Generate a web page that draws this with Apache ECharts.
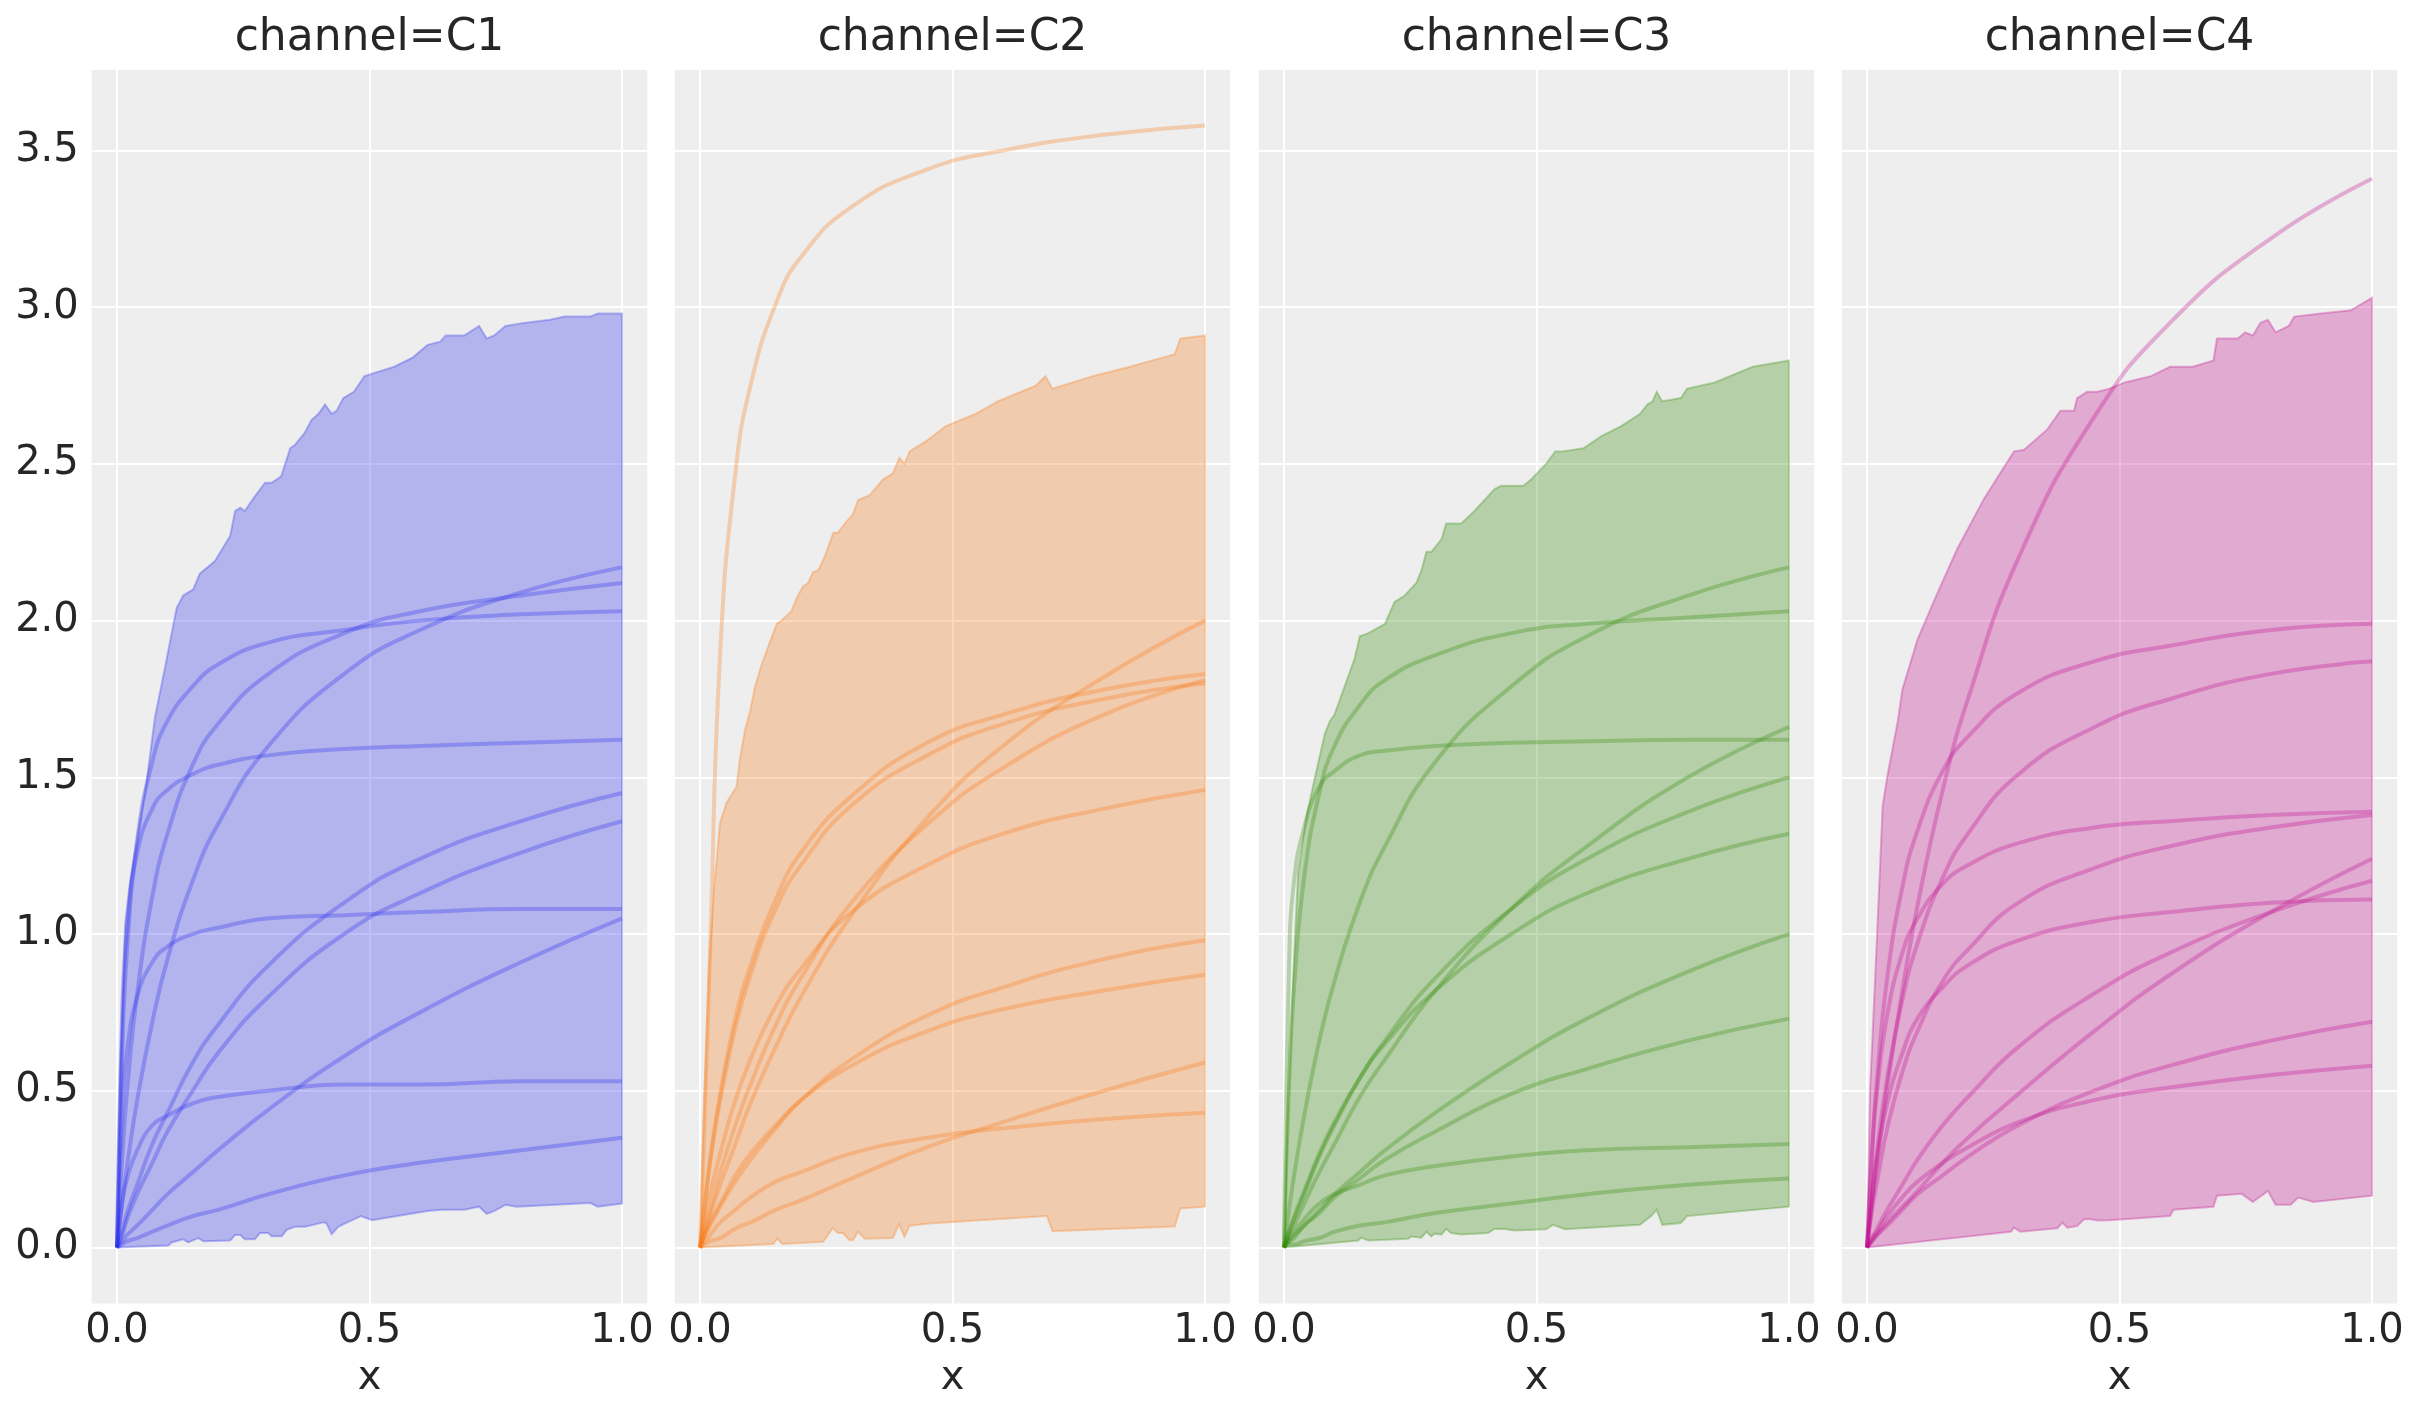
<!DOCTYPE html>
<html>
<head>
<meta charset="utf-8">
<title>channel curves</title>
<script src="https://cdn.jsdelivr.net/npm/echarts@6.0.0/dist/echarts.min.js"></script>
<style>
  html, body { margin: 0; padding: 0; background: #ffffff; }
  #chart { width: 2423px; height: 1423px; }
</style>
</head>
<body>
<div id="chart"></div>
<script>
var xs = [0, 0.01, 0.02, 0.04, 0.07, 0.1, 0.15, 0.2, 0.3, 0.45, 0.6, 0.8, 1];

var channels = ['C1', 'C2', 'C3', 'C4'];
var colors = ['#2a2eec', '#fa7c17', '#328c06', '#c10c90'];

var xTicks = [0, 0.5, 1];
var yTicks = [0, 0.5, 1, 1.5, 2, 2.5, 3, 3.5];

var curvesC1 = [
    [0, .14, .26, .47, .72, .92, 1.17, 1.35, 1.60, 1.83, 1.97, 2.09, 2.17],
    [0, .28, .50, .81, 1.12, 1.32, 1.54, 1.67, 1.83, 1.96, 2.03, 2.08, 2.12],
    [0, .61, .95, 1.30, 1.55, 1.68, 1.79, 1.86, 1.93, 1.97, 2.00, 2.02, 2.03],
    [0, .74, 1.02, 1.26, 1.40, 1.46, 1.51, 1.54, 1.57, 1.59, 1.60, 1.61, 1.62],
    [0, .05, .11, .20, .33, .43, .59, .71, .90, 1.10, 1.24, 1.36, 1.45],
    [0, .04, .09, .17, .27, .37, .50, .62, .80, 1.00, 1.13, 1.26, 1.36],
    [0, .44, .63, .80, .91, .96, 1.00, 1.02, 1.05, 1.06, 1.07, 1.08, 1.08],
    [0, .02, .04, .07, .12, .17, .24, .31, .44, .61, .75, .91, 1.05],
    [0, .14, .22, .31, .39, .42, .46, .48, .50, .52, .52, .53, .53],
    [0, .01, .02, .03, .05, .07, .10, .12, .17, .23, .27, .31, .35]
];

var curvesC2 = [
    [0, .46, .95, 1.90, 2.47, 2.75, 3.01, 3.16, 3.32, 3.44, 3.50, 3.55, 3.58],
    [0, .05, .10, .20, .33, .46, .64, .80, 1.06, 1.37, 1.60, 1.82, 2.00],
    [0, .15, .28, .49, .73, .90, 1.11, 1.26, 1.44, 1.61, 1.70, 1.78, 1.83],
    [0, .14, .27, .47, .70, .87, 1.08, 1.22, 1.41, 1.57, 1.67, 1.75, 1.80],
    [0, .06, .12, .24, .39, .52, .71, .86, 1.10, 1.35, 1.53, 1.70, 1.81],
    [0, .09, .17, .30, .47, .60, .77, .89, 1.07, 1.22, 1.32, 1.40, 1.46],
    [0, .04, .07, .13, .21, .28, .38, .47, .60, .74, .83, .92, .98],
    [0, .04, .08, .14, .23, .30, .39, .47, .58, .69, .76, .82, .87],
    [0, .01, .02, .03, .06, .08, .12, .15, .22, .32, .40, .50, .59],
    [0, .02, .04, .08, .12, .16, .21, .24, .30, .35, .38, .41, .43]
];

var curvesC3 = [
    [0, .12, .23, .42, .66, .85, 1.10, 1.28, 1.55, 1.79, 1.95, 2.08, 2.17],
    [0, .52, .83, 1.18, 1.45, 1.60, 1.73, 1.81, 1.89, 1.96, 1.99, 2.01, 2.03],
    [0, .04, .07, .14, .24, .33, .48, .60, .82, 1.08, 1.28, 1.50, 1.66],
    [0, .90, 1.17, 1.34, 1.47, 1.52, 1.57, 1.585, 1.60, 1.61, 1.615, 1.62, 1.62],
    [0, .05, .09, .17, .29, .39, .54, .66, .86, 1.08, 1.24, 1.39, 1.50],
    [0, .05, .10, .18, .30, .40, .54, .65, .82, 1.00, 1.13, 1.24, 1.32],
    [0, .02, .04, .07, .12, .17, .24, .31, .43, .59, .73, .88, 1.00],
    [0, .02, .03, .07, .11, .16, .22, .28, .37, .49, .57, .66, .73],
    [0, .03, .05, .09, .14, .17, .20, .23, .26, .29, .31, .32, .33],
    [0, .01, .01, .02, .03, .05, .07, .08, .11, .14, .17, .20, .22]
];

var curvesC4 = [
    [0, .14, .27, .51, .82, 1.09, 1.46, 1.75, 2.20, 2.65, 2.95, 3.22, 3.41],
    [0, .31, .54, .86, 1.15, 1.33, 1.52, 1.63, 1.77, 1.87, 1.92, 1.97, 1.99],
    [0, .17, .31, .54, .79, .97, 1.18, 1.32, 1.51, 1.66, 1.75, 1.83, 1.87],
    [0, .30, .50, .74, .94, 1.05, 1.16, 1.22, 1.29, 1.34, 1.36, 1.38, 1.39],
    [0, .12, .21, .38, .56, .69, .85, .95, 1.10, 1.21, 1.28, 1.34, 1.38],
    [0, .16, .29, .46, .62, .73, .83, .90, .98, 1.04, 1.07, 1.10, 1.11],
    [0, .02, .04, .08, .13, .18, .27, .35, .49, .69, .87, 1.07, 1.24],
    [0, .03, .06, .12, .20, .28, .39, .48, .64, .81, .94, 1.07, 1.17],
    [0, .02, .04, .07, .12, .17, .23, .29, .39, .50, .58, .66, .72],
    [0, .03, .05, .10, .16, .21, .27, .32, .40, .47, .51, .55, .58]
];

// hdi band edges, [x, y]
var upperC1 = [[0, 0], [0.006, 0.55], [0.016, 1.03], [0.026, 1.17], [0.042, 1.33], [0.059, 1.49], [0.075, 1.69], [0.095, 1.85], [0.118, 2.04], [0.131, 2.08], [0.151, 2.10], [0.164, 2.15], [0.194, 2.19], [0.224, 2.27], [0.234, 2.35], [0.244, 2.36], [0.253, 2.35], [0.27, 2.39], [0.293, 2.44], [0.306, 2.44], [0.325, 2.46], [0.343, 2.55], [0.352, 2.56], [0.372, 2.60], [0.385, 2.64], [0.399, 2.66], [0.412, 2.69], [0.425, 2.66], [0.435, 2.67], [0.448, 2.71], [0.469, 2.73], [0.49, 2.78], [0.549, 2.81], [0.586, 2.84], [0.615, 2.88], [0.64, 2.89], [0.651, 2.91], [0.688, 2.91], [0.717, 2.94], [0.732, 2.90], [0.747, 2.91], [0.769, 2.94], [0.805, 2.95], [0.857, 2.96], [0.886, 2.97], [0.937, 2.97], [0.952, 2.98], [1, 2.98]];
var lowerC1 = [[0, 0], [0.102, 0.006], [0.108, 0.016], [0.131, 0.026], [0.141, 0.016], [0.161, 0.03], [0.171, 0.02], [0.224, 0.022], [0.234, 0.04], [0.244, 0.04], [0.253, 0.026], [0.273, 0.026], [0.283, 0.046], [0.30, 0.046], [0.306, 0.036], [0.326, 0.036], [0.336, 0.056], [0.352, 0.066], [0.372, 0.066], [0.389, 0.072], [0.409, 0.08], [0.415, 0.076], [0.425, 0.042], [0.438, 0.066], [0.451, 0.076], [0.483, 0.10], [0.505, 0.087], [0.615, 0.116], [0.644, 0.12], [0.688, 0.12], [0.717, 0.13], [0.732, 0.107], [0.747, 0.116], [0.769, 0.136], [0.791, 0.13], [0.937, 0.142], [0.952, 0.13], [1, 0.14]];

var upperC2 = [[0, 0], [0.008, 0.45], [0.018, 0.9], [0.028, 1.15], [0.0395, 1.355], [0.0527, 1.42], [0.0725, 1.47], [0.079, 1.56], [0.089, 1.65], [0.099, 1.71], [0.109, 1.79], [0.122, 1.86], [0.138, 1.93], [0.152, 1.99], [0.161, 2.0], [0.181, 2.03], [0.191, 2.07], [0.204, 2.11], [0.214, 2.12], [0.224, 2.155], [0.234, 2.16], [0.247, 2.205], [0.264, 2.28], [0.273, 2.28], [0.287, 2.31], [0.303, 2.34], [0.313, 2.385], [0.336, 2.40], [0.362, 2.45], [0.382, 2.47], [0.395, 2.52], [0.405, 2.50], [0.415, 2.54], [0.4545, 2.58], [0.486, 2.62], [0.546, 2.66], [0.59, 2.70], [0.665, 2.75], [0.684, 2.78], [0.698, 2.74], [0.777, 2.78], [0.851, 2.81], [0.94, 2.85], [0.951, 2.90], [1, 2.91]];
var lowerC2 = [[0, 0], [0.145, 0.011], [0.153, 0.028], [0.163, 0.011], [0.244, 0.018], [0.263, 0.062], [0.273, 0.046], [0.283, 0.046], [0.296, 0.023], [0.303, 0.023], [0.313, 0.05], [0.326, 0.028], [0.382, 0.03], [0.394, 0.074], [0.405, 0.034], [0.415, 0.069], [0.4545, 0.076], [0.687, 0.10], [0.698, 0.052], [0.94, 0.067], [0.951, 0.124], [1, 0.13]];

var upperC3 = [[0, 0], [0.008, 0.45], [0.022, 1.0], [0.028, 1.2], [0.045, 1.38], [0.06, 1.49], [0.071, 1.57], [0.081, 1.64], [0.091, 1.68], [0.10, 1.70], [0.12, 1.79], [0.14, 1.88], [0.15, 1.95], [0.167, 1.96], [0.20, 1.99], [0.219, 2.06], [0.239, 2.08], [0.262, 2.12], [0.272, 2.16], [0.282, 2.22], [0.292, 2.22], [0.312, 2.26], [0.321, 2.31], [0.351, 2.31], [0.377, 2.35], [0.417, 2.42], [0.43, 2.43], [0.4565, 2.43], [0.474, 2.43], [0.489, 2.45], [0.519, 2.50], [0.537, 2.54], [0.551, 2.54], [0.593, 2.55], [0.63, 2.59], [0.667, 2.62], [0.705, 2.66], [0.72, 2.69], [0.73, 2.70], [0.738, 2.73], [0.749, 2.70], [0.786, 2.71], [0.798, 2.74], [0.853, 2.76], [0.928, 2.81], [1, 2.83]];
var lowerC3 = [[0, 0], [0.147, 0.022], [0.153, 0.031], [0.167, 0.022], [0.246, 0.028], [0.252, 0.035], [0.272, 0.031], [0.282, 0.05], [0.292, 0.035], [0.298, 0.044], [0.312, 0.041], [0.321, 0.059], [0.331, 0.046], [0.351, 0.041], [0.404, 0.046], [0.417, 0.059], [0.437, 0.059], [0.4565, 0.054], [0.519, 0.058], [0.533, 0.072], [0.556, 0.058], [0.705, 0.072], [0.727, 0.10], [0.738, 0.12], [0.749, 0.072], [0.786, 0.078], [0.798, 0.10], [1, 0.13]];

var upperC4 = [[0, 0], [0.006, 0.5], [0.02, 1.0], [0.031, 1.41], [0.041, 1.51], [0.061, 1.68], [0.07, 1.78], [0.10, 1.94], [0.14, 2.09], [0.179, 2.23], [0.232, 2.39], [0.291, 2.54], [0.311, 2.545], [0.357, 2.61], [0.383, 2.67], [0.393, 2.67], [0.41, 2.67], [0.416, 2.71], [0.436, 2.73], [0.456, 2.73], [0.48, 2.74], [0.51, 2.76], [0.562, 2.78], [0.60, 2.81], [0.63, 2.81], [0.645, 2.81], [0.686, 2.83], [0.693, 2.90], [0.734, 2.90], [0.749, 2.92], [0.764, 2.91], [0.779, 2.95], [0.794, 2.96], [0.809, 2.92], [0.835, 2.94], [0.846, 2.97], [0.898, 2.98], [0.958, 2.99], [1, 3.03]];
var lowerC4 = [[0, 0], [0.285, 0.05], [0.291, 0.063], [0.304, 0.05], [0.377, 0.061], [0.387, 0.079], [0.397, 0.063], [0.416, 0.068], [0.43, 0.09], [0.443, 0.09], [0.456, 0.086], [0.48, 0.087], [0.60, 0.10], [0.607, 0.12], [0.686, 0.13], [0.693, 0.165], [0.742, 0.171], [0.764, 0.145], [0.794, 0.18], [0.809, 0.136], [0.839, 0.136], [0.854, 0.159], [0.884, 0.145], [1, 0.165]];

var curves = [curvesC1, curvesC2, curvesC3, curvesC4];
var uppers = [upperC1, upperC2, upperC3, upperC4];
var lowers = [lowerC1, lowerC2, lowerC3, lowerC4];

var FONT = 'DejaVu Sans';
var TEXT = '#262626';
var panelLeft = [91.75, 674.75, 1258.75, 1841.75];
var panelWidth = 555.5;
var panelTop = 70;
var panelHeight = 1233.5;

function rgba(hex, a) {
    var r = parseInt(hex.slice(1, 3), 16);
    var g = parseInt(hex.slice(3, 5), 16);
    var b = parseInt(hex.slice(5, 7), 16);
    return 'rgba(' + r + ',' + g + ',' + b + ',' + a + ')';
}

function fmt(v) {
    return v.toFixed(1);
}

function bandSeries(i) {
    var pts = uppers[i].concat(lowers[i].slice().reverse());
    return {
        type: 'custom',
        xAxisIndex: i,
        yAxisIndex: i,
        silent: true,
        z: 2,
        data: [[0, 0]],
        renderItem: function (params, api) {
            var poly = pts.map(function (p) { return api.coord(p); });
            return {
                type: 'polygon',
                shape: { points: poly },
                style: { fill: rgba(colors[i], 0.3), stroke: rgba(colors[i], 0.3), lineWidth: 2 }
            };
        }
    };
}

function lineSeries(i, vals) {
    return {
        type: 'line',
        xAxisIndex: i,
        yAxisIndex: i,
        silent: true,
        z: 3,
        symbol: 'none',
        smooth: 0.5,
        lineStyle: { color: colors[i], width: 4, opacity: 0.3 },
        data: xs.map(function (x, k) { return [x, vals[k]]; })
    };
}

var grids = [], xAxes = [], yAxes = [], titles = [], series = [];

channels.forEach(function (ch, i) {
    grids.push({
        left: panelLeft[i], top: panelTop, width: panelWidth, height: panelHeight,
        show: true, backgroundColor: '#eeeeee', borderWidth: 0
    });
    titles.push({
        text: 'channel=' + ch,
        left: panelLeft[i] + panelWidth / 2,
        top: 17,
        textAlign: 'center',
        padding: 0,
        textStyle: { fontFamily: FONT, fontSize: 44, fontWeight: 'normal', color: TEXT }
    });
    xAxes.push({
        gridIndex: i, type: 'value', min: -0.05, max: 1.05,
        axisLine: { show: false },
        axisTick: { show: false, customValues: xTicks },
        axisLabel: { customValues: xTicks, formatter: fmt, fontFamily: FONT, fontSize: 40, color: TEXT, margin: 8 },
        splitLine: { show: true, lineStyle: { color: '#ffffff', width: 2 } },
        name: 'x', nameLocation: 'middle', nameGap: 55,
        nameTextStyle: { fontFamily: FONT, fontSize: 40, color: TEXT }
    });
    yAxes.push({
        gridIndex: i, type: 'value', min: -0.1789, max: 3.7569,
        axisLine: { show: false },
        axisTick: { show: false, customValues: yTicks },
        axisLabel: { show: i === 0, customValues: yTicks, formatter: fmt, fontFamily: FONT, fontSize: 40, color: TEXT, margin: 13 },
        splitLine: { show: true, lineStyle: { color: '#ffffff', width: 2 } }
    });
    series.push(bandSeries(i));
    curves[i].forEach(function (vals) {
        series.push(lineSeries(i, vals));
    });
});

var chart = echarts.init(document.getElementById('chart'), null, { renderer: 'canvas' });
chart.setOption({
    backgroundColor: '#ffffff',
    animation: false,
    title: titles,
    grid: grids,
    xAxis: xAxes,
    yAxis: yAxes,
    series: series
});
</script>
</body>
</html>
